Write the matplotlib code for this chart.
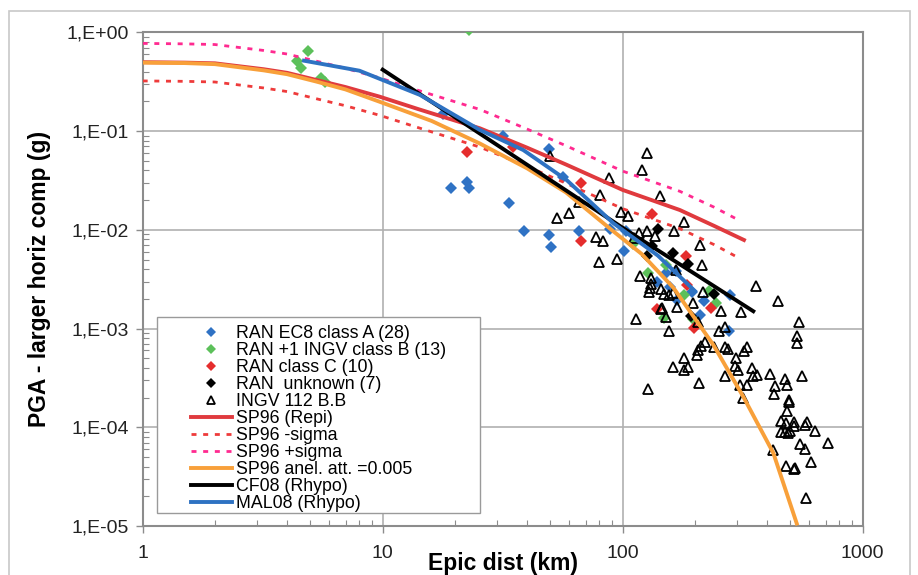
import numpy as np
import matplotlib as mpl
mpl.use('Agg')
import matplotlib.pyplot as plt
from matplotlib.patches import Rectangle

plt.rcParams['font.family'] = ['Liberation Sans', 'DejaVu Sans']

# --- recorded PGA (g) vs epicentral distance (km) ---
ec8a_dist = [17.9, 19.3, 22.5, 22.9, 31.6, 33.5, 38.9, 49.2, 49.2, 50.4, 56.5, 65.9, 88.5,
             102.9, 101.6, 138.6, 151.4, 157, 167, 168, 194, 210, 218, 278, 280]
ec8a_pga = [0.148, 0.0268, 0.0303, 0.0264, 0.090, 0.0186, 0.0098, 0.0656, 0.00887, 0.00676,
            0.0341, 0.0098, 0.0101, 0.0098, 0.00615, 0.00294, 0.00368, 0.00262, 0.00386,
            0.00195, 0.00237, 0.00137, 0.0019, 0.00095, 0.0022]

classb_dist = [4.38, 4.58, 4.9, 5.55, 5.75, 22.9, 110, 128, 148, 152, 180, 197, 228, 245]
classb_pga = [0.511, 0.44, 0.654, 0.345, 0.315, 1.06, 0.0072, 0.00363, 0.00127, 0.0044,
              0.00219, 0.00125, 0.0024, 0.0018]

classc_dist = [22.4, 34.8, 66.8, 66.8, 133, 138.6, 183, 185, 199, 233]
classc_pga = [0.062, 0.0687, 0.0301, 0.00778, 0.0145, 0.00157, 0.0054, 0.00277, 0.00101, 0.0016]

unk_dist = [126.6, 133, 140.7, 162.5, 187.6, 192, 240]
unk_pga = [0.00544, 0.00687, 0.0101, 0.00588, 0.00452, 0.00135, 0.00224]

ingv_dist = [49.8, 65.7, 53.1, 59.8, 126.6, 120.3, 87.9, 143, 80.4, 98.1, 105.5, 180.6, 117, 126,
             164, 136.4, 111.5, 77.4, 83, 79.9, 94.4, 210, 213, 167, 118, 358, 445, 217, 256,
             311, 543, 531, 531, 251, 267, 220, 240, 267, 275, 329, 321, 297, 294, 301, 345,
             362, 350, 411, 557, 474, 485, 431, 426, 267, 308, 330, 318, 492, 493, 485, 457,
             479, 519, 584, 576, 519, 457, 474, 489, 500, 633, 719, 548, 576, 424, 609, 477,
             519, 521, 580, 131, 131, 130, 129, 145, 148, 156, 162.5, 169, 197, 145, 152,
             113.6, 155.5, 205, 211, 205, 203, 180.6, 187.6, 180, 162.5, 208, 128, 146]
ingv_pga = [0.0565, 0.0193, 0.0133, 0.0149, 0.0597, 0.0404, 0.0333, 0.0221, 0.0226, 0.0153,
            0.0138, 0.0121, 0.0094, 0.0098, 0.0098, 0.0087, 0.0082, 0.0084, 0.0078, 0.00476,
            0.00504, 0.00703, 0.0044, 0.0039, 0.0034, 0.0027, 0.0019, 0.00237, 0.00152,
            0.00148, 0.00116, 0.00084, 0.00071, 0.00095, 0.00103, 0.00074, 0.00065, 0.00065,
            0.00062, 0.00065, 0.00059, 0.0005, 0.00042, 0.00038, 0.0004, 0.00034, 0.00033,
            0.00035, 0.00033, 0.00031, 0.00027, 0.00026, 0.00022, 0.00033, 0.00027, 0.00027,
            0.0002, 0.00019, 0.00018, 0.000146, 0.000116, 0.00011, 0.000114, 0.000114,
            0.000105, 0.000103, 9.0e-5, 8.9e-5, 8.7e-5, 9.2e-5, 9.2e-5, 7.0e-5, 6.8e-5,
            6.0e-5, 5.9e-5, 4.5e-5, 4.05e-5, 3.8e-5, 3.9e-5, 1.9e-5, 0.00323, 0.00283,
            0.00256, 0.00237, 0.0025, 0.00224, 0.00219, 0.00231, 0.00167, 0.0018, 0.00157,
            0.00132, 0.00124, 0.00095, 0.00117, 0.00067, 0.00061, 0.00054, 0.0005, 0.00041,
            0.00038, 0.00041, 0.00028, 0.000244, 0.00161]

# --- attenuation relations ---
sp96_dist = [1, 1.5, 2, 3.2, 4, 5.3, 7, 9.7, 14, 25.4, 40, 58, 100, 173, 240, 320]
sp96_pga = [0.50, 0.495, 0.487, 0.424, 0.39, 0.33, 0.28, 0.224, 0.168, 0.107, 0.068, 0.046,
            0.0254, 0.0159, 0.011, 0.0079]
sig_dist = [1, 1.5, 2, 3.2, 4, 5.3, 7, 9.7, 14, 25.4, 40, 58, 100, 173, 240, 300]
minus_sig = [0.323, 0.32, 0.315, 0.274, 0.252, 0.213, 0.181, 0.145, 0.109, 0.069, 0.044,
             0.0297, 0.0164, 0.0103, 0.0071, 0.0053]
plus_sig = [0.775, 0.767, 0.755, 0.657, 0.605, 0.512, 0.434, 0.347, 0.26, 0.166, 0.105,
            0.0713, 0.0394, 0.0246, 0.017, 0.0128]
anel_dist = [1, 1.5, 2, 3.2, 4, 5.3, 7, 9.7, 16, 25.4, 40, 58, 88.5, 120, 162.5, 239, 318, 424, 531]
anel_pga = [0.495, 0.49, 0.478, 0.413, 0.378, 0.318, 0.265, 0.199, 0.127, 0.075, 0.042,
            0.024, 0.0103, 0.0057, 0.0026, 0.00068, 0.000204, 0.000055, 0.0000106]
cf08_dist = [10, 25, 100, 350]
cf08_pga = [0.42, 0.097, 0.0105, 0.0015]
mal08_dist = [4.7, 8.0, 14.3, 25.4, 38.5, 58.4, 91.4, 140, 200]
mal08_pga = [0.518, 0.41, 0.233, 0.103, 0.0645, 0.032, 0.0117, 0.0055, 0.0024]

ytick_vals = [1e-5, 1e-4, 1e-3, 1e-2, 1e-1, 1]
ytick_labels = ['1,E-05', '1,E-04', '1,E-03', '1,E-02', '1,E-01', '1,E+00']
xtick_vals = [1, 10, 100, 1000]
xtick_labels = ['1', '10', '100', '1000']

fig = plt.figure(figsize=(9.18, 5.75), dpi=100)
ax = fig.add_axes([0.1554, 0.0852, 0.7844, 0.8583])

ms = 6
ax.plot(ec8a_dist, ec8a_pga, 'D', color='#2f72c4', ms=ms, mew=0, label='RAN EC8 class A (28)', zorder=3)
ax.plot(classb_dist, classb_pga, 'D', color='#5cc05a', ms=ms, mew=0, label='RAN +1 INGV class B (13)', zorder=3)
ax.plot(classc_dist, classc_pga, 'D', color='#e52d2d', ms=ms, mew=0, label='RAN class C (10)', zorder=3)
ax.plot(unk_dist, unk_pga, 'D', color='black', ms=ms, mew=0, label='RAN  unknown (7)', zorder=3)
ax.plot(ingv_dist, ingv_pga, '^', mfc='none', mec='black', ms=6.5, mew=1.3, label='INGV 112 B.B', zorder=3)

ax.plot(sp96_dist, sp96_pga, '-', color='#e03a3e', lw=2.8, label='SP96 (Repi)', zorder=4)
ax.plot(sig_dist, minus_sig, color='#ee3b3b', lw=2, ls=(0, (1.8, 2.4)), label='SP96 -sigma', zorder=4)
ax.plot(sig_dist, plus_sig, color='#ff2a90', lw=2, ls=(0, (1.8, 2.4)), label='SP96 +sigma', zorder=4)
ax.plot(anel_dist, anel_pga, '-', color='#f8a03a', lw=2.8, label='SP96 anel. att. =0.005', zorder=4)
ax.plot(cf08_dist, cf08_pga, '-', color='black', lw=2.8, label='CF08 (Rhypo)', zorder=5)
ax.plot(mal08_dist, mal08_pga, '-', color='#2e72c2', lw=2.8, label='MAL08 (Rhypo)', zorder=5)

ax.set_xscale('log')
ax.set_yscale('log')
ax.set_xlim(1, 1000)
ax.set_ylim(1e-5, 1)
ax.set_xticks(xtick_vals)
ax.set_xticklabels(xtick_labels)
ax.set_yticks(ytick_vals)
ax.set_yticklabels(ytick_labels)
ax.grid(True, which='major', color='#b0b0b0', lw=1.2)
ax.set_axisbelow(True)
ax.tick_params(which='major', direction='out', length=5, width=1, color='#8c8c8c',
               labelsize=14, labelcolor='#222222')
ax.tick_params(axis='x', which='major', pad=9)
ax.tick_params(axis='y', which='major', pad=5)
ax.tick_params(which='minor', direction='in', length=4, width=0.8, color='#8c8c8c')
ax.yaxis.set_minor_formatter(mpl.ticker.NullFormatter())
ax.xaxis.set_minor_formatter(mpl.ticker.NullFormatter())
for s in ax.spines.values():
    s.set_color('#8c8c8c')
    s.set_linewidth(1.5)

ax.set_xlabel('Epic dist (km)', fontsize=16.5, fontweight='bold')
ax.xaxis.set_label_coords(0.5, -0.0892)
ax.xaxis.label.set_va('baseline')
ax.set_ylabel('PGA - larger horiz comp (g)', fontsize=16.5, fontweight='bold')
ax.yaxis.set_label_coords(-0.127, 0.5)

# legend box drawn separately (Excel style padding)
box = Rectangle((0.0199, 0.0263), 0.4486, 0.397, transform=ax.transAxes, fill=True,
                facecolor='white', edgecolor='#9a9a9a', lw=1, zorder=6)
ax.add_patch(box)
leg = ax.legend(loc='upper left', bbox_to_anchor=(0.0667, 0.4067), frameon=False, fontsize=12.8,
                handlelength=2.3, handletextpad=0.24, labelspacing=0.0, borderpad=0,
                borderaxespad=0, markerscale=0.85)
leg.set_zorder(7)

fig.patches.append(Rectangle((9 / 918, -0.1), 901 / 918, 1.1 - 11 / 575, transform=fig.transFigure,
                             fill=False, edgecolor='#c8c8c8', lw=1.2))

fig.savefig('out.png', dpi=100)
